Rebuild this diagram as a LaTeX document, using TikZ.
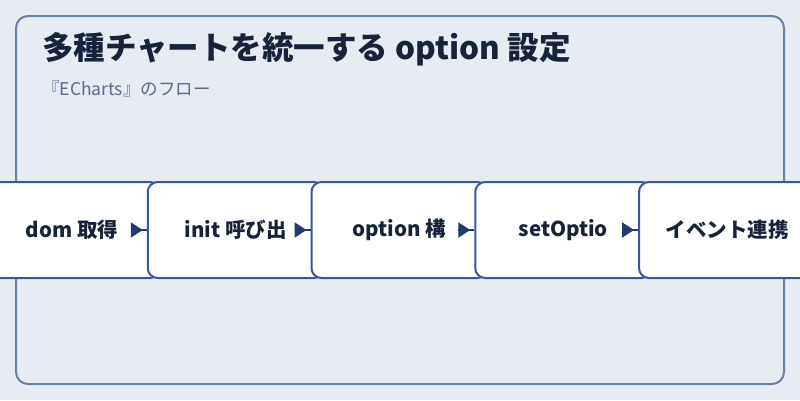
\documentclass[tikz,border=0pt]{standalone}
\usepackage{fontspec}
\setmainfont{Noto Sans CJK JP}
\usetikzlibrary{arrows.meta}
\usetikzlibrary{decorations.markings}
\usetikzlibrary{positioning}
\definecolor{pagebg}{HTML}{E7ECF2}
\definecolor{framecol}{HTML}{6A7FA6}
\definecolor{boxline}{HTML}{3657A0}
\definecolor{ink}{HTML}{17233A}
\definecolor{subink}{HTML}{5B6B86}
\definecolor{tipcol}{HTML}{1F3A70}
\tikzset{stage/.style = {draw = boxline, line width = 2pt, fill = white, rounded corners = 10pt,
                         minimum width = 176pt, minimum height = 96pt, inner sep = 0,
                         font = \fontsize{20.5}{24}\selectfont\bfseries, text = ink}}
\tikzset{flow/.style = {draw = tipcol, line width = 2pt,
                        decoration={markings,
                                    mark=at position -4pt with {\arrow[tipcol]{Triangle[length=12pt, width=15pt]}}},
                        postaction={decorate}}}

\begin{document}
\begin{tikzpicture}[x=1pt, y=-1pt]
      \clip (0, 0) rectangle (800, 400);
      \fill [pagebg] (0, 0) rectangle (800, 400);
      \draw [framecol, line width=2pt, rounded corners=12pt] (16, 16) rectangle (784, 384);
      \node [anchor=base west, inner sep=0, text=ink, font=\fontsize{31.5}{36}\selectfont\bfseries] (title) at (42, 59) {多種チャートを統一する option 設定};
      \node [anchor=base west, inner sep=0, text=subink, font=\fontsize{17.5}{20}\selectfont] (subtitle) at (42, 95) {『ECharts』のフロー};
      \node [stage] (dom) at (72, 230) {dom 取得};
      \node [stage, right=-14.25pt of dom] (init) {init 呼び出};
      \node [stage, right=-14.25pt of init] (build) {option 構};
      \node [stage, right=-14.25pt of build] (setopt) {setOptio};
      \node [stage, right=-14.25pt of setopt] (event) {イベント連携};
      \coordinate [left=16pt of init.west] (a1);
      \coordinate [left=16pt of build.west] (a2);
      \coordinate [left=16pt of setopt.west] (a3);
      \coordinate [left=16pt of event.west] (a4);
      \draw [flow] (a1) -- (init.west);
      \draw [flow] (a2) -- (build.west);
      \draw [flow] (a3) -- (setopt.west);
      \draw [flow] (a4) -- (event.west);
    \end{tikzpicture}
\end{document}
